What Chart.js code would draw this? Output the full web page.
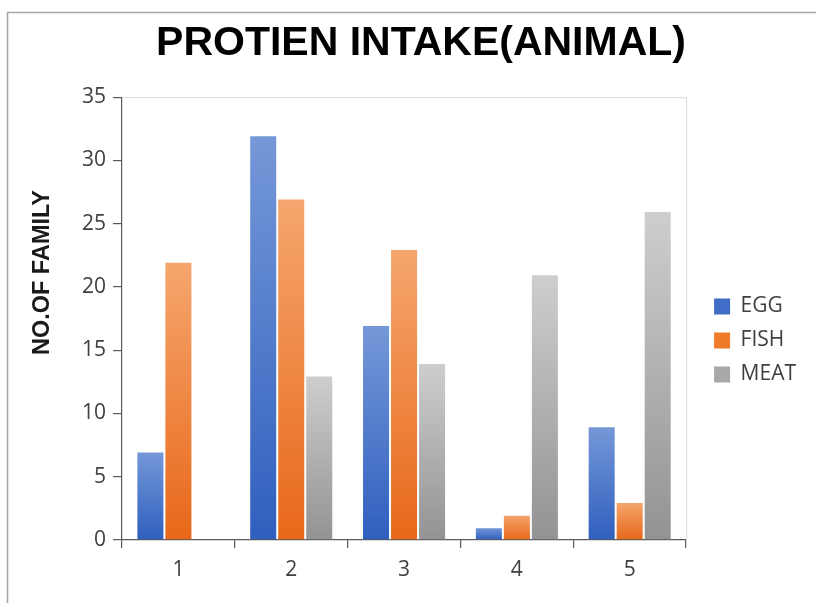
<!DOCTYPE html>
<html><head><meta charset="utf-8">
<script src="https://cdn.jsdelivr.net/npm/chart.js@4.4.0/dist/chart.umd.min.js"></script>
<style>html,body{margin:0;padding:0;background:#fff}#wrap{width:816px;height:603px;position:relative}</style>
</head><body><div id="wrap"><canvas id="c" width="816" height="603"></canvas></div>
<script>
const categories = ['1', '2', '3', '4', '5'];
const seriesNames = ['EGG', 'FISH', 'MEAT'];
const eggValues = [7, 32, 17, 1, 9];
const fishValues = [22, 27, 23, 2, 3];
const meatValues = [0, 13, 14, 21, 26];
const yMin = 0, yMax = 35, yStep = 5;

const palette = [
  {top: '#7698d8', bottom: '#2f5fbe', legend: '#3f6dc8'},
  {top: '#f5a66e', bottom: '#e8681a', legend: '#ef7a2a'},
  {top: '#cecece', bottom: '#939393', legend: '#a8a8a8'}
];

function gradientFill(idx) {
  return function (ctx) {
    const p = palette[idx];
    const chart = ctx.chart;
    if (ctx.type !== 'data' || !chart.chartArea || !chart.scales.y) return p.legend;
    const y = chart.scales.y;
    const yTop = y.getPixelForValue(ctx.parsed.y);
    const yBase = y.getPixelForValue(0);
    if (!isFinite(yTop) || Math.abs(yBase - yTop) < 0.5) return p.bottom;
    const g = chart.ctx.createLinearGradient(0, yTop, 0, yBase);
    g.addColorStop(0, p.top);
    g.addColorStop(1, p.bottom);
    return g;
  };
}

const frameAndBorder = {
  id: 'frameAndBorder',
  beforeDraw(chart) {
    const c = chart.ctx;
    c.save();
    c.fillStyle = '#ffffff';
    c.fillRect(0, 0, chart.width, chart.height);
    c.strokeStyle = '#a6a6a6';
    c.lineWidth = 1.5;
    c.beginPath();
    c.moveTo(7.5, chart.height + 5);
    c.lineTo(7.5, 12.5);
    c.lineTo(chart.width + 5, 12.5);
    c.stroke();
    c.restore();
  },
  beforeDatasetsDraw(chart) {
    const a = chart.chartArea;
    const c = chart.ctx;
    c.save();
    c.strokeStyle = '#d9d9d9';
    c.lineWidth = 1;
    c.beginPath();
    c.moveTo(a.left, a.top + 0.5);
    c.lineTo(a.right + 0.5, a.top + 0.5);
    c.lineTo(a.right + 0.5, a.bottom);
    c.stroke();
    c.restore();
  },
  afterLayout(chart) {
    const t = chart.titleBlock;
    if (t) { t.left += 14; t.right += 14; }
    const lg = chart.legend;
    if (lg) {
      const w = lg.width;
      lg.left = chart.chartArea.right + 15;
      lg.right = lg.left + w;
      lg.top += 43;
      lg.bottom += 43;
    }
    const s = chart.scales.y;
    if (s && !s._titleShifted) {
      const orig = s.drawTitle;
      s.drawTitle = function () {
        this.ctx.save();
        this.ctx.translate(0, -46);
        orig.call(this);
        this.ctx.restore();
      };
      s._titleShifted = true;
    }
  }
};

const datasets = [eggValues, fishValues, meatValues].map((vals, i) => ({
  label: seriesNames[i],
  data: vals,
  backgroundColor: gradientFill(i),
  borderColor: 'rgba(255,255,255,0.35)',
  borderWidth: 1,
  borderSkipped: 'start',
  categoryPercentage: 0.745,
  barPercentage: 1.0
}));

new Chart(document.getElementById('c'), {
  type: 'bar',
  data: {labels: categories, datasets},
  plugins: [frameAndBorder],
  options: {
    responsive: false,
    animation: false,
    devicePixelRatio: 1,
    layout: {padding: {left: 8, top: 12, right: 10, bottom: 20}},
    plugins: {
      title: {
        display: true,
        text: 'PROTIEN INTAKE(ANIMAL)',
        color: '#000000',
        font: {family: '"Liberation Sans", Arial, sans-serif', size: 41, weight: 'bold'},
        padding: {top: 7, bottom: 29}
      },
      legend: {
        position: 'right',
        align: 'center',
        labels: {
          boxWidth: 16,
          boxHeight: 16,
          padding: 13,
          color: '#404040',
          font: {family: '"Open Sans", sans-serif', size: 21},
          generateLabels(chart) {
            const items = Chart.defaults.plugins.legend.labels.generateLabels(chart);
            items.forEach((it, i) => {
              it.fillStyle = palette[i].legend;
              it.strokeStyle = palette[i].legend;
              it.lineWidth = 0;
            });
            return items;
          }
        }
      },
      tooltip: {enabled: false}
    },
    scales: {
      x: {
        offset: true,
        grid: {display: true, offset: true, drawOnChartArea: false, drawTicks: true, tickLength: 8, color: '#595959', lineWidth: 1.2},
        border: {display: true, color: '#595959', width: 1.2},
        ticks: {color: '#404040', padding: 9, font: {family: '"Open Sans", sans-serif', size: 21}},
        afterFit(s) { s.height = 43; }
      },
      y: {
        min: yMin,
        max: yMax,
        ticks: {stepSize: yStep, color: '#404040', padding: 7, font: {family: '"Open Sans", sans-serif', size: 21}},
        grid: {display: true, drawOnChartArea: false, drawTicks: true, tickLength: 9, color: '#595959', lineWidth: 1.2},
        border: {display: true, color: '#595959', width: 1.2},
        title: {
          display: true,
          text: 'NO.OF FAMILY',
          color: '#1a1a1a',
          font: {family: '"Liberation Sans", Arial, sans-serif', size: 23.5, weight: 'bold'},
          padding: {top: 20, bottom: 0}
        },
        afterFit(s) { s.width = 114; }
      },
      y2: {
        position: 'right',
        display: true,
        grid: {display: false, drawTicks: false},
        border: {display: false},
        ticks: {display: false},
        afterFit(s) { s.width = 15; }
      }
    }
  }
});
</script>
</body></html>
